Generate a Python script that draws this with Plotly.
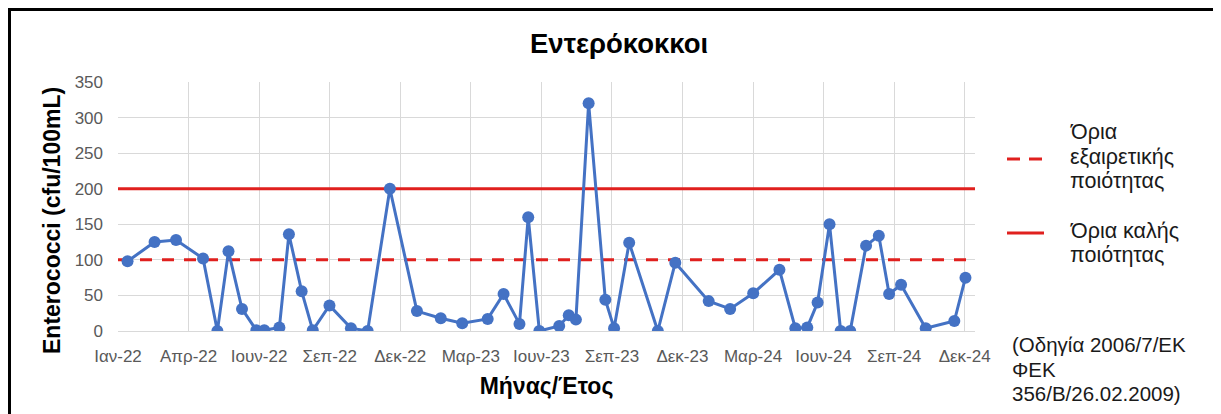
import pandas as pd
import plotly.graph_objects as go

# ---- data ----
sample_dates = [
    "2022-01-13", "2022-02-16", "2022-03-15", "2022-04-18", "2022-05-06", "2022-05-20",
    "2022-06-06", "2022-06-24", "2022-07-04", "2022-07-23", "2022-08-04", "2022-08-20",
    "2022-09-03", "2022-09-24", "2022-10-21", "2022-11-11", "2022-12-09", "2023-01-12",
    "2023-02-11", "2023-03-10", "2023-04-11", "2023-05-01", "2023-05-21", "2023-06-01",
    "2023-06-15", "2023-07-10", "2023-07-22", "2023-07-31", "2023-08-16", "2023-09-06",
    "2023-09-17", "2023-10-06", "2023-11-11", "2023-12-03", "2024-01-14", "2024-02-10",
    "2024-03-10", "2024-04-12", "2024-05-02", "2024-05-17", "2024-05-30", "2024-06-14",
    "2024-06-28", "2024-07-10", "2024-07-30", "2024-08-15", "2024-08-28", "2024-09-12",
    "2024-10-13", "2024-11-18", "2024-12-02",
]
enterococci = [
    98, 125, 128, 102, 0, 112,
    31, 1, 1, 5, 136, 56,
    1, 36, 4, 0, 200, 28,
    18, 11, 17, 52, 10, 160,
    0, 7, 22, 16, 320, 44,
    4, 124, 0, 96, 42, 31,
    53, 86, 4, 5, 40, 150,
    0, 0, 120, 134, 52, 65,
    4, 14, 75,
]
tick_labels = ["Ιαν-22", "Απρ-22", "Ιουν-22", "Σεπ-22", "Δεκ-22", "Μαρ-23", "Ιουν-23",
               "Σεπ-23", "Δεκ-23", "Μαρ-24", "Ιουν-24", "Σεπ-24", "Δεκ-24"]
excellent_limit = 100
good_limit = 200
legend_excellent = ["Όρια", "εξαιρετικής", "ποιότητας"]
legend_good = ["Όρια καλής", "ποιότητας"]
source_note = ["(Οδηγία 2006/7/ΕΚ", "ΦΕΚ", "356/Β/26.02.2009)"]
title_text = "Εντερόκοκκοι"
y_title = "Enterococci (cfu/100mL)"
x_title = "Μήνας/Έτος"

# ---- layout geometry (page offset of 8px from the default body margin) ----
OFF = 8
W, H = 1221 - OFF, 414 - OFF
L, T = 118 - OFF, 82 - OFF
PLOT_R, PLOT_B = 975 - OFF, 331 - OFF
R, B = W - PLOT_R, H - PLOT_B
PW, PH = PLOT_R - L, PLOT_B - T

def px(x):
    """page x pixel -> paper coordinate"""
    return (x - OFF - L) / PW

def py(y):
    """page y pixel -> paper coordinate"""
    return (PLOT_B - (y - OFF)) / PH

x_start, x_end = "2022-01-01", "2024-12-14"
tick_vals = pd.date_range("2022-01-01", "2024-12-01", periods=len(tick_labels))

RED = "#E0201E"
BLUE = "#4472C4"
GRID = "#D9D9D9"
TXT = "#595959"
FONT = "Liberation Sans, Arial, sans-serif"
DASH = "12px,10px"

fig = go.Figure()
fig.add_trace(go.Scatter(
    x=[x_start, x_end], y=[excellent_limit, excellent_limit], mode="lines",
    line=dict(color=RED, width=3, dash=DASH), name="Όρια εξαιρετικής ποιότητας",
    hoverinfo="skip", showlegend=False))
fig.add_trace(go.Scatter(
    x=[x_start, x_end], y=[good_limit, good_limit], mode="lines",
    line=dict(color=RED, width=3), name="Όρια καλής ποιότητας",
    hoverinfo="skip", showlegend=False))
fig.add_trace(go.Scatter(
    x=pd.to_datetime(sample_dates), y=enterococci, mode="lines+markers",
    line=dict(color=BLUE, width=3), marker=dict(color=BLUE, size=12),
    name="Enterococci", showlegend=False))

shapes = [
    # outer black frame
    dict(type="rect", xref="paper", yref="paper", x0=px(9.5), x1=px(1216),
         y0=py(440), y1=py(9.5), line=dict(color="black", width=3), layer="above"),
    # legend samples
    dict(type="line", xref="paper", yref="paper", x0=px(1007), x1=px(1044),
         y0=py(159), y1=py(159), line=dict(color=RED, width=3, dash="13px,9px")),
    dict(type="line", xref="paper", yref="paper", x0=px(1007), x1=px(1044),
         y0=py(233), y1=py(233), line=dict(color=RED, width=3)),
]

annotations = [
    dict(text=f"<b>{title_text}</b>", xref="paper", yref="paper", x=px(619), y=py(43),
         showarrow=False, font=dict(family=FONT, size=27.5, color="black"),
         xanchor="center", yanchor="middle"),
    dict(text=f"<b>{y_title}</b>", xref="paper", yref="paper", x=px(52), y=py(221),
         showarrow=False, textangle=-90, font=dict(family=FONT, size=23, color="black"),
         xanchor="center", yanchor="middle"),
]

def text_lines(lines, x, y_centers, size):
    for line, yc in zip(lines, y_centers):
        annotations.append(dict(
            text=line, xref="paper", yref="paper", x=px(x), y=py(yc),
            showarrow=False, align="left", xanchor="left", yanchor="middle",
            font=dict(family=FONT, size=size, color="#1a1a1a")))

text_lines(legend_excellent, 1068, [132, 157, 181], 21.5)
text_lines(legend_good, 1068, [231, 255], 21.5)
text_lines(source_note, 1010, [344, 369, 393], 20.5)

fig.update_layout(
    width=W, height=H,
    margin=dict(l=L, r=R, t=T, b=B, autoexpand=False),
    paper_bgcolor="white", plot_bgcolor="white",
    font=dict(family=FONT),
    shapes=shapes, annotations=annotations,
    xaxis=dict(
        type="date", range=[x_start, x_end], tickvals=tick_vals, ticktext=tick_labels,
        showgrid=True, gridcolor=GRID, gridwidth=1, zeroline=False,
        showline=True, linecolor=GRID, linewidth=1,
        ticks="", ticklabelstandoff=10,
        tickfont=dict(family=FONT, size=17, color=TXT),
        title=dict(text=f"<b>{x_title}</b>", font=dict(family=FONT, size=23, color="black"),
                   standoff=12),
    ),
    yaxis=dict(
        range=[0, 350], dtick=50, tick0=0,
        showgrid=True, gridcolor=GRID, gridwidth=1, zeroline=False,
        showline=False, ticks="", ticklabelstandoff=14,
        tickfont=dict(family=FONT, size=17, color=TXT),
    ),
)

fig.write_html("out.html")
